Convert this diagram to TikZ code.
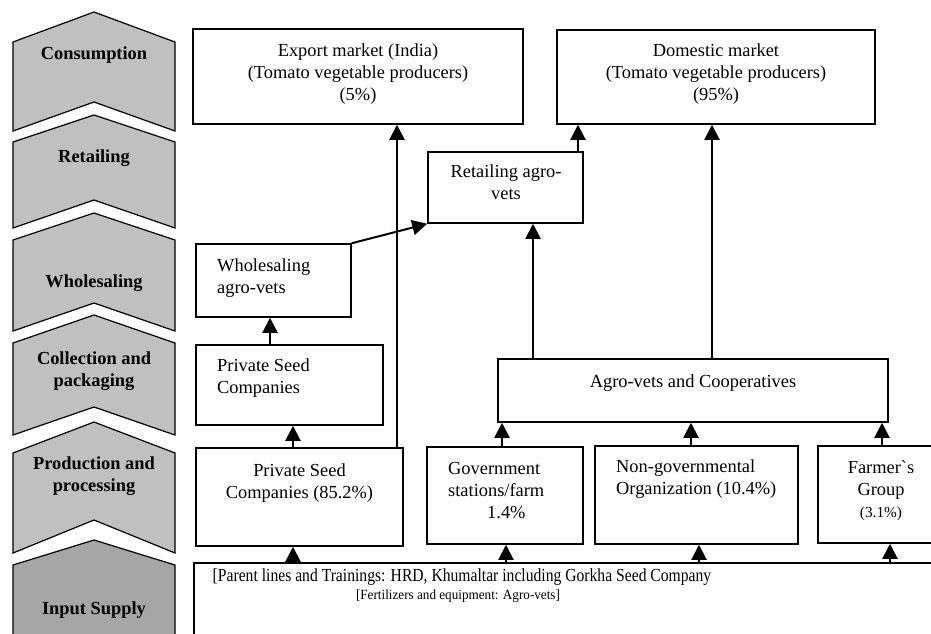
\documentclass[tikz,border=0pt]{standalone}
\usepackage{fontspec}
\usepackage{graphicx}
\setmainfont{Liberation Serif}
\newfontfamily\plainserif{Liberation Serif}
\usetikzlibrary{arrows.meta}
\definecolor{chevlight}{RGB}{192,192,192}
\definecolor{chevdark}{RGB}{166,166,166}
\newcommand{\tstrut}{\rule{0pt}{14pt}}
\begin{document}
\begin{tikzpicture}[x=1pt,y=-1pt,
  box/.style={draw, line width=1.5pt, inner sep=0pt},
  txt/.style={inner sep=0pt, font=\fontsize{18.4}{22}\selectfont},
  lab/.style={inner sep=0pt, font=\fontsize{18.4}{22}\selectfont\bfseries, align=center},
  chev/.style={draw, line width=1.2pt, line join=miter},
  arr/.style={line width=2pt, -{Triangle[width=15pt,length=15pt]}},
]
\useasboundingbox (0,0) rectangle (931,633);
\clip (0,0) rectangle (931,633);

% stage chevrons
\filldraw[chev, fill=chevlight] (13,42) -- (94,12) -- (175,42) -- (175,131) -- (94,102) -- (13,131) -- cycle;
\filldraw[chev, fill=chevlight] (13,142) -- (94,115) -- (175,142) -- (175,228) -- (94,200) -- (13,228) -- cycle;
\filldraw[chev, fill=chevlight] (13,240) -- (94,213) -- (175,240) -- (175,331) -- (94,303) -- (13,331) -- cycle;
\filldraw[chev, fill=chevlight] (13,343) -- (94,315) -- (175,343) -- (175,435) -- (94,407) -- (13,435) -- cycle;
\filldraw[chev, fill=chevlight] (13,453) -- (94,422) -- (175,453) -- (175,553) -- (94,520) -- (13,553) -- cycle;
\filldraw[chev, fill=chevdark] (13,565) -- (94,540) -- (175,565) -- (175,645) -- (13,645) -- cycle;

\node[lab, anchor=base] (l-cons) at (94,59) {Consumption};
\node[lab, anchor=base] (l-ret) at (94,162) {Retailing};
\node[lab, anchor=base] (l-whole) at (94,287) {Wholesaling};
\node[lab, anchor=north] (l-coll) at (94,350) {\tstrut Collection and\\packaging};
\node[lab, anchor=north] (l-prod) at (94,455) {\tstrut Production and\\processing};
\node[lab, anchor=base] (l-in) at (94,614) {Input Supply};

% boxes
\node[box, minimum width=330pt, minimum height=95pt] (export) at (358,76.5) {};
\node[box, minimum width=318pt, minimum height=94pt] (domestic) at (716,77) {};
\node[box, minimum width=155pt, minimum height=71pt] (retail) at (505.5,187.5) {};
\node[box, minimum width=155pt, minimum height=73pt] (wholesale) at (273.5,280.5) {};
\node[box, minimum width=187pt, minimum height=80pt] (psc) at (289.5,385) {};
\node[box, minimum width=207pt, minimum height=98pt] (psp) at (299.5,497) {};
\node[box, minimum width=390pt, minimum height=63pt] (agro) at (693,390.5) {};
\node[box, minimum width=156pt, minimum height=97pt] (gov) at (505,495.5) {};
\node[box, minimum width=203pt, minimum height=98pt] (ngo) at (696.5,495) {};
\node[box, minimum width=140pt, minimum height=97pt] (farmer) at (888,494.5) {};
\node[box, minimum width=786pt, minimum height=137pt] (input) at (587,631.5) {};

% texts
\node[txt, anchor=north, align=center] (t-export) at (358,42) {\tstrut Export market (India)\\(Tomato vegetable producers)\\(5\%)};
\node[txt, anchor=north, align=center] (t-dom) at (716,42) {\tstrut Domestic market\\(Tomato vegetable producers)\\(95\%)};
\node[txt, anchor=north, align=center] (t-retail) at (506,163) {\tstrut Retailing agro-\\vets};
\node[txt, anchor=north west, align=left] (t-whole) at (217,257) {\tstrut Wholesaling\\agro-vets};
\node[txt, anchor=north west, align=left] (t-psc) at (217,357) {\tstrut Private Seed\\Companies};
\node[txt, anchor=north, align=center] (t-psp) at (299.5,462) {\tstrut Private Seed\\Companies (85.2\%)};
\node[txt, anchor=base] (t-agro) at (693,387) {Agro-vets and Cooperatives};
\node[txt, anchor=north west, align=left] (t-gov) at (448,460) {\tstrut Government\\stations/farm\\\hspace*{39pt}1.4\%};
\node[txt, anchor=north west, align=left] (t-ngo) at (616,458) {\tstrut Non-governmental\\Organization (10.4\%)};
\node[txt, anchor=north, align=center] (t-farmer) at (881,459) {\tstrut Farmer{\plainserif\symbol{96}}s\\Group\\{\fontsize{15.3}{19}\selectfont (3.1\%)}};
\node[txt, anchor=base] (t-in1) at (462,581) {\scalebox{0.85}[1]{[Parent lines and Trainings: HRD, Khumaltar including Gorkha Seed Company}};
\node[txt, anchor=base, font=\fontsize{14}{17}\selectfont] (t-in2) at (458,599) {\scalebox{0.94}[1]{[Fertilizers and equipment: Agro-vets]}};

% connectors
\draw[arr] (293,0 |- input.north) -- (293,0 |- psp.south);
\draw[arr] (506,0 |- input.north) -- (506,0 |- gov.south);
\draw[arr] (699,0 |- input.north) -- (699,0 |- ngo.south);
\draw[arr] (890,0 |- input.north) -- (890,0 |- farmer.south);
\draw[arr] (293,0 |- psp.north) -- (293,0 |- psc.south);
\draw[arr] (270,0 |- psc.north) -- (270,0 |- wholesale.south);
\draw[arr] (wholesale.north east) -- (retail.south west);
\draw[arr] (397,0 |- psp.north) -- (397,0 |- export.south);
\draw[arr] (533,0 |- agro.north) -- (533,0 |- retail.south);
\draw[arr] (712,0 |- agro.north) -- (712,0 |- domestic.south);
\draw[arr] (578,0 |- retail.north) -- (578,0 |- domestic.south);
\draw[arr] (502,0 |- gov.north) -- (502,0 |- agro.south);
\draw[arr] (691,0 |- ngo.north) -- (691,0 |- agro.south);
\draw[arr] (882,0 |- farmer.north) -- (882,0 |- agro.south);
\end{tikzpicture}
\end{document}
